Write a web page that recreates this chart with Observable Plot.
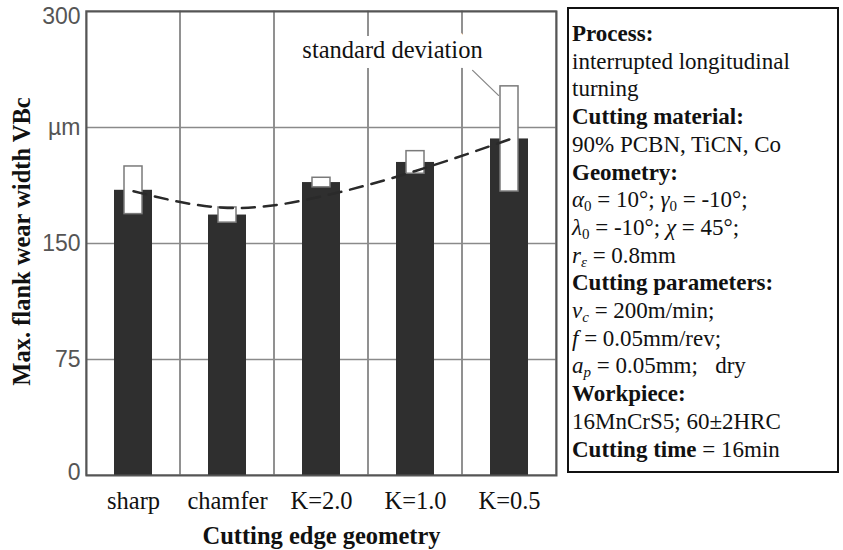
<!DOCTYPE html>
<html>
<head>
<meta charset="utf-8">
<script src="https://cdn.jsdelivr.net/npm/d3@7"></script>
<script src="https://cdn.jsdelivr.net/npm/@observablehq/plot@0.6"></script>
<style>
  html, body { margin: 0; padding: 0; background: #fff; }
  #wrap { position: relative; width: 843px; height: 550px; overflow: hidden; }
  #wrap svg { position: absolute; left: 0; top: 0; }
  #box {
    position: absolute; left: 567px; top: 7px; width: 272px; height: 466px;
    box-sizing: border-box; border: 2px solid #111; padding: 11px 0 0 3px;
    font-family: "Liberation Serif", "Times New Roman", serif; font-size: 23px;
    line-height: 27.7px; color: #111; white-space: nowrap;
  }
  #box sub { font-size: 15px; vertical-align: -4px; line-height: 0; font-style: normal; }
  #box i sub { font-style: italic; }
</style>
</head>
<body>
<div id="wrap">
  <div id="box">
    <b>Process:</b><br>
    interrupted longitudinal<br>
    turning<br>
    <b>Cutting material:</b><br>
    90% PCBN, TiCN, Co<br>
    <b>Geometry:</b><br>
    <i>α</i><sub>0</sub> = 10°; <i>γ</i><sub>0</sub> = -10°;<br>
    <i>λ</i><sub>0</sub> = -10°; <i>χ</i> = 45°;<br>
    <i>r<sub>ε</sub></i> = 0.8mm<br>
    <b>Cutting parameters:</b><br>
    <i>v<sub>c</sub></i> = 200m/min;<br>
    <i>f</i> = 0.05mm/rev;<br>
    <i>a<sub>p</sub></i> = 0.05mm;&nbsp;&nbsp; dry<br>
    <b>Workpiece:</b><br>
    16MnCrS5; 60±2HRC<br>
    <b>Cutting time</b> = 16min
  </div>
</div>
<script>
// ---- data ----
const categories = ["sharp", "chamfer", "K=2.0", "K=1.0", "K=0.5"];
const meanVB = [184.4, 168.4, 189.4, 202.4, 217.6];   // µm
const sdVB = [15.4, 4.9, 3.1, 7.3, 34.0];            // µm
const trendVB = [183.8, 173.0, 180.4, 196.9, 217.3]; // dashed trend curve
const yTicks = [0, 75, 150, 225, 300];
const yTickLabels = ["0", "75", "150", "µm", "300"];
const yLabel = "Max. flank wear width VBc";
const xLabel = "Cutting edge geometry";
const annotationText = "standard deviation";
const annotationCategory = "K=1.0";
const annotationValue = 270;
const leaderCategory = "K=0.5";

const data = categories.map((c, i) => ({cat: c, mean: meanVB[i], sd: sdVB[i], trend: trendVB[i]}));
const gridValues = yTicks.filter(v => v > 0 && v < 300);
const yTickData = yTicks.map((v, i) => ({v, label: yTickLabels[i]}));

const serif = "Liberation Serif, Times New Roman, serif";
const sans = "Liberation Sans, Arial, sans-serif";
const tickStyle = {frameAnchor: "left", y: "v", text: "label", textAnchor: "end", dx: -6, fontFamily: sans, fontSize: 23, fill: "#555"};

const chart = Plot.plot({
  width: 843,
  height: 550,
  marginLeft: 86,
  marginRight: 287,
  marginTop: 11,
  marginBottom: 75,
  style: {fontFamily: serif, fontSize: "24.5px", color: "#111", background: "transparent", overflow: "visible"},
  x: {domain: categories, padding: 0, tickSize: 0, tickPadding: 16, label: null},
  y: {domain: [0, 300], axis: null},
  marks: [
    Plot.cell(categories, {x: d => d, fill: "none", stroke: "#8a8a8a", strokeWidth: 1.5}),
    Plot.ruleY(gridValues, {stroke: "#8a8a8a", strokeWidth: 1.5}),
    Plot.barY(data, {x: "cat", y: "mean", fill: "#2f2f2f", insetLeft: 28, insetRight: 28}),
    Plot.barY(data, {x: "cat", y1: d => d.mean - d.sd, y2: d => d.mean + d.sd,
      fill: "white", stroke: "#7a7a7a", strokeWidth: 1.5, insetLeft: 38, insetRight: 38}),
    Plot.line(data, {x: "cat", y: "trend", curve: "natural", stroke: "#2a2a2a", strokeWidth: 2.5, strokeDasharray: "13,9"}),
    Plot.text([annotationText], {x: () => annotationCategory, y: () => annotationValue, text: d => d,
      dx: -23, lineAnchor: "bottom", textAnchor: "middle", fontSize: 24.5, fill: "#111",
      stroke: "white", strokeWidth: 20, paintOrder: "stroke"}),
    Plot.vector([data[categories.indexOf(leaderCategory)]], {x: "cat", y: d => d.mean + d.sd,
      anchor: "end", length: 36, rotate: 134, dx: -11, dy: 9, stroke: "#888", strokeWidth: 1.3,
      shape: {draw(context, l) { context.moveTo(0, 0); context.lineTo(0, -l); }}}),
    Plot.frame({stroke: "#555", strokeWidth: 2}),
    Plot.text(yTickData.filter(d => d.v > 0 && d.v < 300), tickStyle),
    Plot.text(yTickData.filter(d => d.v === 300), {...tickStyle, dy: 5}),
    Plot.text(yTickData.filter(d => d.v === 0), {...tickStyle, dy: -3}),
    Plot.text([yLabel], {frameAnchor: "left", text: d => d, rotate: -90, dx: -64, dy: -2, textAnchor: "middle",
      fontWeight: "bold", fontSize: 24.5, fill: "#111"}),
    Plot.text([xLabel], {frameAnchor: "bottom", text: d => d, dy: 68, lineAnchor: "bottom", fontWeight: "bold", fontSize: 24.5, fill: "#111"})
  ]
});
document.getElementById("wrap").prepend(chart);
</script>
</body>
</html>
